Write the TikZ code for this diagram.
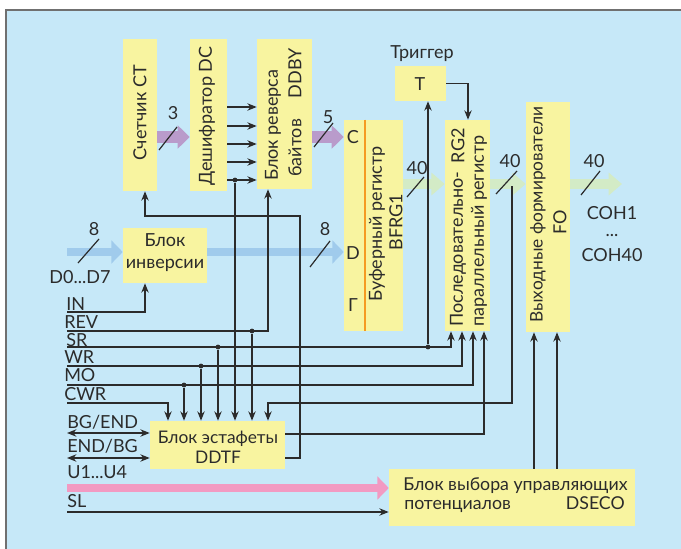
\documentclass[tikz,border=0pt]{standalone}
\usepackage{fontspec}
\setmainfont{Lato}
\usetikzlibrary{arrows.meta,fit,calc}
\definecolor{bg}{HTML}{C6E8F8}
\definecolor{boxy}{HTML}{F8F4A0}
\definecolor{purp}{HTML}{B99BCB}
\definecolor{grn}{HTML}{D3EBC6}
\definecolor{blu}{HTML}{A0CBEC}
\definecolor{pnk}{HTML}{F29AC2}
\definecolor{org}{HTML}{F59A23}
\definecolor{ln}{HTML}{2B2B2B}
\definecolor{txt}{HTML}{2B2B2B}
\definecolor{framec}{HTML}{707070}
\begin{document}
\begin{tikzpicture}[x=0.75pt,y=-0.75pt, font=\fontsize{13.5}{16.5}\selectfont, text=txt,
 box/.style={fill=boxy, inner sep=0pt, draw=none},
 lbl/.style={inner sep=0pt},
 vlbl/.style={inner sep=0pt, rotate=90},
 conn/.style={draw=ln, line width=1.1pt},
 arr/.style={conn, -{Stealth[length=7pt,width=5.5pt]}},
 darr/.style={conn, {Stealth[length=7pt,width=5.5pt]}-{Stealth[length=7pt,width=5.5pt]}},
 dot/.style={circle, fill=ln, inner sep=0pt, minimum size=3.6pt},
 slash/.style={draw=ln, line width=0.9pt},
 fatP/.style={draw=purp, line width=9pt, -{Triangle[length=9pt,width=17pt]}},
 fatB/.style={draw=blu, line width=6pt, -{Triangle[length=8.5pt,width=17pt]}},
 fatG/.style={draw=grn, line width=8pt, -{Triangle[length=10pt,width=16.5pt]}},
 fatR/.style={draw=pnk, line width=5.5pt, -{Triangle[length=8.5pt,width=17pt]}},
]
% background and frame
\path[use as bounding box, fill=white] (0,0) rectangle (681,549);
\fill[bg] (6,10) rectangle (681,549);
\draw[framec, line width=1.2pt] (6,549) -- (6,10) -- (681,10);

% boxes
\node[box, fit={(123,39) (157,191)}] (CT) {};
\node[box, fit={(190,39) (227,191)}] (DC) {};
\node[box, fit={(257,39) (312,189)}] (DD) {};
\node[box, fit={(395,66) (446,101)}] (T) {};
\node[box, fit={(123,228) (207,283)}] (INV) {};
\node[box, fit={(344,120) (403,331)}] (BF) {};
\node[box, fit={(445,120) (490,331)}] (RG) {};
\node[box, fit={(526,102) (570,332)}] (FO) {};
\node[box, fit={(150,421) (285,469)}] (DDTF) {};
\node[box, fit={(389,469) (635,526)}] (DS) {};
\draw[org, line width=1.2pt] ($(BF.north west)+(21,0)$) -- ($(BF.south west)+(21,0)$);

% fat bus arrows
\draw[fatP] (CT.east |- 0,137) -- (DC.west |- 0,137);
\draw[fatP] (DD.east |- 0,137) -- (BF.west |- 0,137);
\coordinate (Din) at (67,252);
\draw[fatB] (Din) -- (INV.west |- 0,252);
\draw[fatB] (INV.east |- 0,252) -- (BF.west |- 0,252);
\draw[fatG] (BF.east |- 0,184) -- (RG.west |- 0,184);
\draw[fatG] (RG.east |- 0,184) -- (FO.west |- 0,184);
\coordinate (Gout) at (622,184);
\draw[fatG] (FO.east |- 0,184) -- (Gout);
\coordinate (Pin) at (67,488);
\draw[fatR] (Pin) -- (DS.west |- 0,488);

% slashes
\draw[slash] (159,150) -- (177,127);
\draw[slash] (314,147) -- (333,123);
\draw[slash] (78,263) -- (99,239);
\draw[slash] (310,267) -- (330,241);
\draw[slash] (407,197) -- (424,177);
\draw[slash] (496,194) -- (517,171);
\draw[slash] (581,195) -- (600,171);

% DC -> DDBY
\foreach \yy in {107,126,144,162,180}
  \draw[arr] (DC.east |- 0,\yy) -- (DD.west |- 0,\yy);
\node[dot] (dDC) at (235,180) {};
\draw[arr] (dDC) -- (dDC |- DDTF.north);

% control lines
\coordinate (INs) at (67,312);
\draw[arr] (INs) -| (INV.south -| 145,0);

\coordinate (REVs) at (67,331);
\node[dot] (dREV) at (252,331) {};
\draw[arr] (REVs) -| (DD.south -| 268,0);
\draw[arr] (dREV) -- (dREV |- DDTF.north);

\coordinate (SRs) at (67,347);
\node[dot] (dSR1) at (218,347) {};
\node[dot] (dSR2) at (428,347) {};
\draw[arr] (SRs) -| (RG.south -| 451,0);
\draw[arr] (dSR1) -- (dSR1 |- DDTF.north);
\draw[arr] (dSR2) -- (dSR2 |- T.south);

\coordinate (WRs) at (67,366);
\node[dot] (dWR) at (201,366) {};
\draw[arr] (WRs) -| (RG.south -| 462,0);
\draw[arr] (dWR) -- (dWR |- DDTF.north);

\coordinate (MOs) at (67,385);
\node[dot] (dMO) at (184,385) {};
\draw[arr] (MOs) -| (RG.south -| 473,0);
\draw[arr] (dMO) -- (dMO |- DDTF.north);

\coordinate (CWRs) at (67,403);
\draw[arr] (CWRs) -| (DDTF.north -| 168,0);

\coordinate (bus) at (512,186);
\coordinate (busc) at (268,403);
\draw[arr] (bus) |- (busc) -- (DDTF.north -| busc);

\draw[arr] (DDTF.east |- 0,434) -| (RG.south -| 484,0);
\coordinate (fb1) at (300,458);
\coordinate (fb2) at (300,216);
\draw[arr] (DDTF.east |- fb1) -- (fb1) -- (fb2) -| (CT.south -| 145,0);

\draw[arr] (T.east) -| (RG.north -| 468,0);

\draw[arr] (DS.north -| 534,0) -- (FO.south -| 534,0);
\draw[arr] (DS.north -| 557,0) -- (FO.south -| 557,0);

\coordinate (BGs) at (67,433);
\coordinate (ENs) at (67,458);
\draw[darr] (BGs) -- (DDTF.west |- BGs);
\draw[darr] (ENs) -- (DDTF.west |- ENs);
\coordinate (SLs) at (67,512);
\draw[arr] (SLs) -- (DS.west |- SLs);

% box texts
\node[vlbl] (tCT) at (140,113) {Счетчик CT};
\node[vlbl] (tDC) at (207,116) {Дешифратор DC};
\node[vlbl, anchor=west] (tDD1) at (273,181) {Блок реверса};
\node[vlbl, anchor=west] (tDD2) at (295,177) {байтов};
\node[vlbl, anchor=east] (tDD3) at (295,48) {DDBY};
\node[vlbl] (tBF1) at (377,224) {Буферный регистр};
\node[vlbl] (tBF2) at (396,222) {BFRG1};
\node[vlbl, anchor=west] (tRG1) at (458,327) {Последовательно-};
\node[vlbl, anchor=east] (tRG1b) at (458,128) {RG2};
\node[vlbl, anchor=west] (tRG2) at (479,327) {параллельный регистр};
\node[vlbl, anchor=west, font=\fontsize{13}{15}\selectfont] (tFO1) at (538,323) {Выходные формирователи};
\node[vlbl] (tFO2) at (560,222) {FO};
\node[lbl] (tT) at (420,84) {T};
\node[lbl] (trig) at (422,54) {Триггер};
\node[lbl] (tC) at (353,137) {C};
\node[lbl] (tD) at (353,253) {D};
\node[lbl] (tG) at (353,305) {Г};
\node[lbl, align=center] (tINV) at (165,253) {Блок\\инверсии};
\node[lbl, align=center, font=\fontsize{13}{15}\selectfont] (tDDTF) at (218,447) {Блок эстафеты\\DDTF};
\node[lbl, anchor=base west, font=\fontsize{13.3}{16}\selectfont] (tDS1) at (403,490) {Блок выбора управляющих};
\node[lbl, anchor=base west, font=\fontsize{13.3}{16}\selectfont] (tDS2) at (404,509) {потенциалов};
\node[lbl, anchor=base east, font=\fontsize{13.3}{16}\selectfont] (tDS3) at (625,509) {DSECO};

% numbers and bus labels
\node[lbl] (n3) at (173,113) {3};
\node[lbl] (n5) at (328,117) {5};
\node[lbl] (n8a) at (94,229) {8};
\node[lbl] (n8b) at (325,229) {8};
\node[lbl] (n40a) at (417,168) {40};
\node[lbl] (n40b) at (510,161) {40};
\node[lbl] (n40c) at (594,161) {40};
\node[lbl] (tD07) at (80,277) {D0...D7};
\node[lbl] (tCOH1) at (612,213) {COH1};
\node[lbl, anchor=base] (tdots) at (612,236) {...};
\node[lbl] (tCOH40) at (612,255) {COH40};

% signal names
\node[lbl, anchor=base west] (lIN) at (66,310) {IN};
\node[lbl, anchor=base west] (lREV) at (64,328) {REV};
\node[lbl, anchor=base west] (lSR) at (66,346) {SR};
\node[lbl, anchor=base west] (lWR) at (64,363) {WR};
\node[lbl, anchor=base west] (lMO) at (64,381) {MO};
\node[lbl, anchor=base west] (lCWR) at (64,400) {CWR};
\node[lbl, anchor=base west] (lBG) at (67,428) {BG/END};
\node[lbl, anchor=base west] (lEN) at (67,452) {END/BG};
\node[lbl, anchor=base west] (lU) at (67,478) {U1...U4};
\node[lbl, anchor=base west] (lSL) at (67,507) {SL};
\end{tikzpicture}
\end{document}
